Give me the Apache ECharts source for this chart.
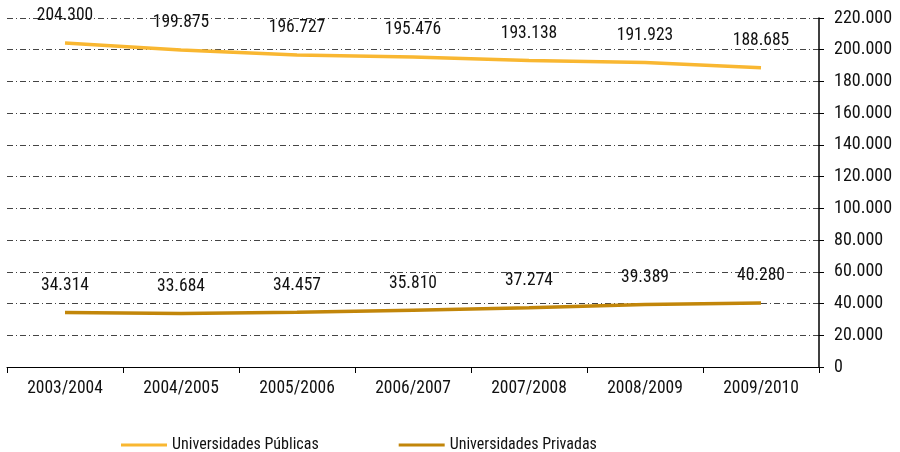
<!DOCTYPE html>
<html>
<head>
<meta charset="utf-8">
<script src="https://cdn.jsdelivr.net/npm/echarts@6/dist/echarts.min.js"></script>
<style>
  html, body { margin: 0; padding: 0; background: #fff; }
  #chart { width: 900px; height: 452px; }
</style>
</head>
<body>
<div id="chart"></div>
<script>
const categories = ['2003/2004', '2004/2005', '2005/2006', '2006/2007', '2007/2008', '2008/2009', '2009/2010']
const publicas = [204300, 199875, 196727, 195476, 193138, 191923, 188685]
const privadas = [34314, 33684, 34457, 35810, 37274, 39389, 40280]
const yTicks = { min: 0, max: 220000, interval: 20000 }

const FONT = '"Liberation Sans Narrow", "Roboto Condensed", "Liberation Sans", sans-serif'

function fmt(v) {
    if (v === 0) return '0'
    return String(v).replace(/\B(?=(\d{3})+(?!\d))/g, '.')
}

const myChart = echarts.init(document.getElementById('chart'))

const labelStyle = {
    show: true,
    position: 'top',
    distance: 18,
    color: '#111',
    fontSize: 17.5,
    fontFamily: FONT,
    formatter: function (p) { return fmt(p.value) }
}

const option = {
    animation: false,
    grid: { left: 7, right: 81, top: 18, bottom: 85 },
    legend: {
        top: 432,
        left: 116,
        itemGap: 80,
        itemWidth: 46,
        itemHeight: 3,
        icon: 'rect',
        textStyle: { fontFamily: FONT, fontSize: 16, color: '#111' },
        data: ['Universidades Públicas', 'Universidades Privadas']
    },
    xAxis: {
        type: 'category',
        data: categories,
        boundaryGap: true,
        axisLine: { lineStyle: { color: '#000', width: 1 } },
        axisTick: { show: true, length: 6, lineStyle: { color: '#000' } },
        axisLabel: { color: '#111', fontSize: 17.5, fontFamily: FONT, margin: 13 }
    },
    yAxis: {
        type: 'value',
        position: 'right',
        min: yTicks.min,
        max: yTicks.max,
        interval: yTicks.interval,
        axisLine: { show: true, lineStyle: { color: '#000', width: 1.5 } },
        axisTick: { show: true, length: 5, lineStyle: { color: '#000' } },
        axisLabel: { color: '#111', fontSize: 18, fontFamily: FONT, margin: 15, formatter: fmt },
        splitLine: { show: true, lineStyle: { color: '#444', width: 1, type: [6, 3, 1, 3] } }
    },
    series: [
        {
            name: 'Universidades Públicas',
            type: 'line',
            data: publicas,
            symbol: 'circle',
            symbolSize: 0,
            showSymbol: true,
            color: '#F9B731',
            lineStyle: { width: 3.5, color: '#F9B731' },
            label: labelStyle
        },
        {
            name: 'Universidades Privadas',
            type: 'line',
            data: privadas,
            symbol: 'circle',
            symbolSize: 0,
            showSymbol: true,
            color: '#C2860A',
            lineStyle: { width: 3.5, color: '#C2860A' },
            label: labelStyle
        }
    ]
}

myChart.setOption(option)

window.addEventListener('resize', function () {
    myChart.resize()
})
</script>
</body>
</html>
